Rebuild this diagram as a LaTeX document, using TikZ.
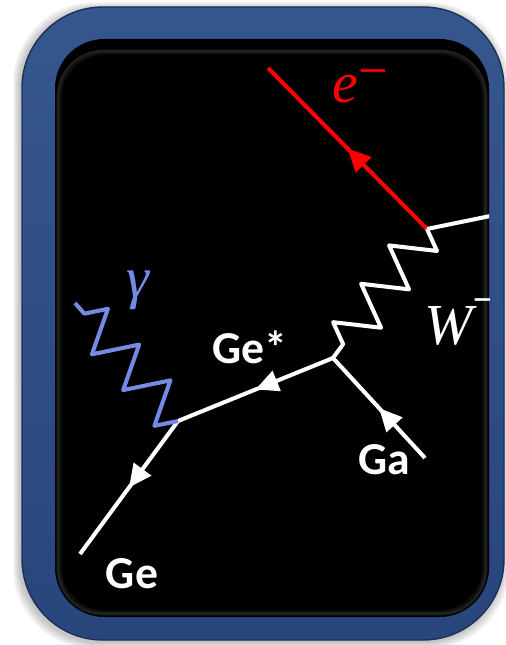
\documentclass[tikz,border=0pt]{standalone}
\usepackage{fontspec}
\newfontfamily\labelfont{Carlito}
\newfontfamily\symfont{Liberation Serif}
\usetikzlibrary{arrows.meta,decorations.pathmorphing,decorations.markings}

\definecolor{framehi}{RGB}{54,86,142}
\definecolor{framelo}{RGB}{40,70,124}
\definecolor{frameedge}{RGB}{28,48,88}
\definecolor{photon}{RGB}{118,138,228}

\begin{document}
\begin{tikzpicture}[x=0.02cm, y=-0.02cm,
  fermion/.style={color=white, line width=2.3pt, postaction={decorate},
    decoration={markings, mark=at position 0.5 with {\arrow{Triangle[length=13pt, width=12pt]}}}},
  boson/.style={color=white, line width=2.3pt, line join=round, decorate,
    decoration={zigzag, segment length=0.95cm, amplitude=0.42cm}},
  particle/.style={text=white, inner sep=0pt,
    font=\labelfont\bfseries\fontsize{26}{30}\selectfont},
  field/.style={inner sep=0pt, font=\symfont\itshape\fontsize{33}{36}\selectfont}
]
\useasboundingbox (0,0) rectangle (506,645);
\foreach \s in {1,...,7}
  \fill[black, opacity=0.035, rounded corners=46] ({20-\s},{9-\s}) rectangle ({502+\s},{642+\s});
\fill[rounded corners=46, top color=framehi, bottom color=framelo] (22,7) rectangle (504,640);
\draw[frameedge, line width=0.8pt, rounded corners=46] (22,7) rectangle (504,640);
\fill[black, rounded corners=28] (55,39) rectangle (489,617);
\foreach \s/\o in {3/0.12,5/0.06}
  \draw[white, opacity=\o, line width=1.5pt, rounded corners=26] ({55+\s},{48+\s}) rectangle ({489-\s},{617-\s});
\begin{scope}
\clip[rounded corners=28] (55,39) rectangle (489,617);
\coordinate (vw) at (427,229);
\coordinate (vge) at (333,358);
\coordinate (vg) at (178,421);
\coordinate (ein) at (268,68);
\coordinate (nu) at (500,214);
\coordinate (ga) at (425,458);
\coordinate (geout) at (80,554);
\coordinate (gam) at (75,303);
\draw[fermion, red] (vw) -- (ein);
\draw[white, line width=2.3pt] (vw) -- (nu);
\draw[boson] (vw) -- (vge);
\draw[fermion] (ga) -- (vge);
\draw[fermion] (vge) -- (vg);
\draw[fermion] (vg) -- (geout);
\draw[boson, color=photon] (vg) -- (gam);
\node[field, text=red] (elab) at (360,86) {e\raisebox{0.24em}{\upshape\fontsize{30}{30}\selectfont −}};
\node[field, text=photon] (glab) at (138,290) {γ};
\node[field, text=white, anchor=west] (wlab) at (424,322) {W\raisebox{0.45em}{\upshape\fontsize{30}{30}\selectfont −}};
\node[particle] (gestar) at (250,347) {Ge*};
\node[particle] (galab) at (384,460) {Ga};
\node[particle] (gelab) at (132,574) {Ge};
\end{scope}
\end{tikzpicture}
\end{document}
